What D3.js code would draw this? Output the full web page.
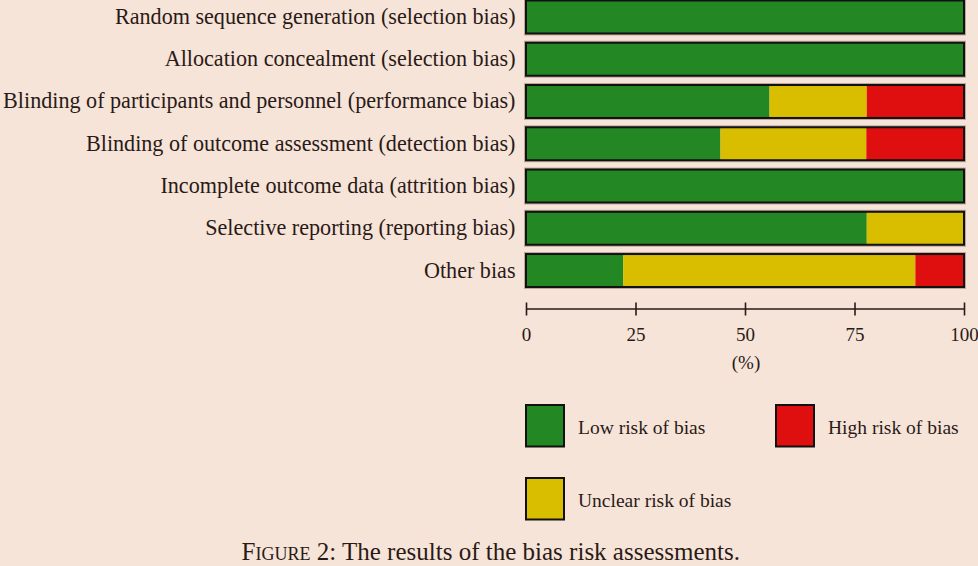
<!DOCTYPE html>
<html><head><meta charset="utf-8">
<script src="https://cdn.jsdelivr.net/npm/d3@7/dist/d3.min.js"></script>
<style>
html,body{margin:0;padding:0;background:#f6e4d9;}
svg{display:block;}
text{font-family:"Liberation Serif","Times New Roman",serif;fill:#2a1a16;}
</style></head>
<body>
<svg id="chart" width="978" height="566"></svg>
<script>
const categories = [
  "Random sequence generation (selection bias)",
  "Allocation concealment (selection bias)",
  "Blinding of participants and personnel (performance bias)",
  "Blinding of outcome assessment (detection bias)",
  "Incomplete outcome data (attrition bias)",
  "Selective reporting (reporting bias)",
  "Other bias"
];
const lowRisk     = [100, 100, 55.6, 44.4, 100, 77.8, 22.2];
const unclearRisk = [0, 0, 22.2, 33.3, 0, 22.2, 66.7];
const highRisk    = [0, 0, 22.2, 22.2, 0, 0, 11.1];
const xTicks = [0, 25, 50, 75, 100];
const seriesNames = ["Low risk of bias", "Unclear risk of bias", "High risk of bias"];
const seriesColors = ["#238823", "#d9be00", "#e00f0f"];
const axisTitle = "(%)";
const caption = "Figure 2: The results of the bias risk assessments.";

const svg = d3.select("#chart");
const x = d3.scaleLinear().domain([0, 100]).range([526, 964]);
const y = d3.scaleBand().domain(categories).range([0.5, 287]).paddingInner(0.22).paddingOuter(0);

const rows = categories.map((c, i) => ({cat: c, low: lowRisk[i], unclear: unclearRisk[i], high: highRisk[i]}));
const keys = ["low", "unclear", "high"];
const stack = d3.stack().keys(keys)(rows);
const color = d3.scaleOrdinal().domain(keys).range(seriesColors);

function fit(sel, target) {
  const n = sel.node();
  const fs = parseFloat(sel.attr("font-size"));
  const w = n.getComputedTextLength();
  sel.attr("font-size", (fs * target / w).toFixed(2));
}

svg.append("g").selectAll("rect").data(categories).join("rect")
  .attr("x", x(0)).attr("y", d => y(d))
  .attr("width", x(100) - x(0)).attr("height", y.bandwidth())
  .attr("fill", "none").attr("stroke", "rgba(90,50,40,0.35)").attr("stroke-width", 4);

svg.append("g").selectAll("g").data(stack).join("g")
  .attr("fill", d => color(d.key))
  .selectAll("rect").data(d => d).join("rect")
  .attr("x", d => x(d[0])).attr("y", d => y(d.data.cat))
  .attr("width", d => Math.max(0, x(d[1]) - x(d[0])))
  .attr("height", y.bandwidth());

svg.append("g").selectAll("rect").data(categories).join("rect")
  .attr("x", x(0)).attr("y", d => y(d))
  .attr("width", x(100) - x(0)).attr("height", y.bandwidth())
  .attr("fill", "none").attr("stroke", "#111").attr("stroke-width", 2);

const labels = svg.append("g").selectAll("text").data(categories).join("text")
  .attr("x", 515.5).attr("y", d => y(d) + y.bandwidth() / 2 + 7)
  .attr("text-anchor", "end").attr("font-size", 20).text(d => d);
const longest = labels.filter((d, i) => i === 2);
fit(longest, 512.5);
labels.attr("font-size", longest.attr("font-size"));

const axis = svg.append("g").attr("transform", "translate(0,309)")
  .call(d3.axisBottom(x).tickValues(xTicks).tickSizeInner(6.5).tickSizeOuter(0).tickPadding(0).tickFormat(d3.format("d")));
axis.select(".domain").remove();
axis.insert("line", ":first-child").attr("x1", x(0)).attr("x2", x(100)).attr("stroke", "#2a1a16").attr("stroke-width", 1.6);
axis.selectAll(".tick line").attr("y1", -6.5).attr("y2", 6.5).attr("stroke", "#2a1a16").attr("stroke-width", 1.6);
axis.selectAll(".tick text").attr("y", 32).attr("dy", null)
  .attr("font-size", 19).attr("font-family", '"Liberation Serif",serif').attr("fill", "#2a1a16");

svg.append("text").attr("x", x(50) + 1).attr("y", 369).attr("text-anchor", "middle")
  .attr("font-size", 19).text(axisTitle);

const legendPos = [[526, 405], [526, 478], [776, 405]];
const leg = svg.append("g").selectAll("g").data(seriesNames).join("g")
  .attr("transform", (d, i) => `translate(${legendPos[i][0]},${legendPos[i][1]})`);
leg.append("rect").attr("width", 38).attr("height", 41.5)
  .attr("fill", (d, i) => seriesColors[i]).attr("stroke", "#111").attr("stroke-width", 2);
const legText = leg.append("text").attr("x", 52).attr("y", 28.5).attr("font-size", 19).text(d => d);
const lt0 = legText.filter((d, i) => i === 1);
fit(lt0, 153.5);
legText.attr("font-size", lt0.attr("font-size"));

const cap = svg.append("text").attr("x", 241.5).attr("y", 560)
  .attr("font-size", 22).style("font-variant", "small-caps");
cap.append("tspan").text(caption.split(":")[0] + ":");
cap.append("tspan").style("font-variant", "normal").text(caption.slice(caption.indexOf(":") + 1));
fit(cap, 496);
</script>
</body></html>
